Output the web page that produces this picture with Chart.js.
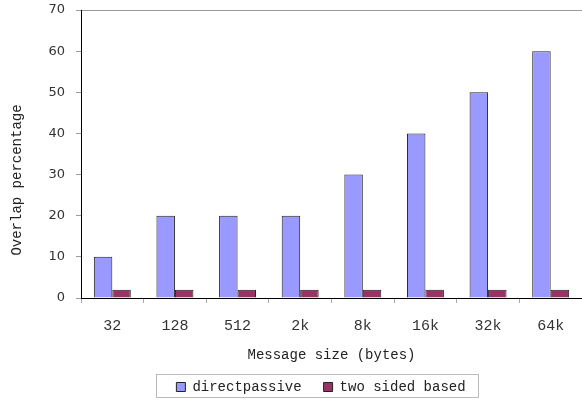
<!DOCTYPE html>
<html>
<head>
<meta charset="utf-8">
<script src="https://cdn.jsdelivr.net/npm/chart.js@4/dist/chart.umd.min.js"></script>
<style>
  html, body { margin: 0; padding: 0; background: #fff; }
  #wrap { width: 582px; height: 400px; }
</style>
</head>
<body>
<div id="wrap"><canvas id="overlapChart"></canvas></div>
<script>
// message sizes and overlap values
const sizes = ["32", "128", "512", "2k", "8k", "16k", "32k", "64k"];
const directPassive = [10, 20, 20, 20, 30, 40, 50, 60];
const twoSided = [2, 2, 2, 2, 2, 2, 2, 2];
const yTicks = [0, 10, 20, 30, 40, 50, 60, 70];

const monoFont = "'Liberation Mono', 'DejaVu Sans Mono', monospace";

// y title sits a bit below the middle of the axis in the original
const yTitlePlugin = {
  id: "yTitle",
  afterDraw(chart) {
    const ctx = chart.ctx;
    const area = chart.chartArea;
    ctx.save();
    ctx.translate(17, area.bottom - 118);
    ctx.rotate(-Math.PI / 2);
    ctx.font = "14px " + monoFont;
    ctx.fillStyle = "#222";
    ctx.textAlign = "center";
    ctx.textBaseline = "middle";
    ctx.fillText("Overlap percentage", 0, 0);
    ctx.restore();
  },
};

// legend: keep the wide gap between items but a short box,
// shift it right and draw a frame round it
const legendFramePlugin = {
  id: "legendFrame",
  afterInit(chart) {
    const legend = chart.legend;
    const fit = legend.fit.bind(legend);
    legend.fit = function () {
      fit();
      this.height = 42;
      this.bottom = this.top + 42;
    };
  },
  afterLayout(chart) {
    chart.legend.left += 30;
    chart.legend.right += 30;
  },
  afterDraw(chart) {
    const boxes = chart.legend.legendHitBoxes;
    if (!boxes || !boxes.length) return;
    const first = boxes[0];
    const last = boxes[boxes.length - 1];
    const ctx = chart.ctx;
    ctx.save();
    ctx.strokeStyle = "#bbb";
    ctx.lineWidth = 1;
    const x0 = Math.round(first.left - 20) + 0.5;
    const x1 = Math.round(last.left + last.width + 12) + 0.5;
    const y0 = Math.round(first.top - 6) + 0.5;
    const y1 = Math.round(first.top + first.height + 3) + 0.5;
    ctx.strokeRect(x0, y0, x1 - x0, y1 - y0);
    ctx.restore();
  },
};

new Chart(document.getElementById("overlapChart"), {
  type: "bar",
  data: {
    labels: sizes,
    datasets: [
      {
        label: "directpassive",
        data: directPassive,
        backgroundColor: "#9999FF",
        borderColor: "#222",
        borderWidth: 1,
      },
      {
        label: "two sided based",
        data: twoSided,
        backgroundColor: "#993366",
        borderColor: "#222",
        borderWidth: 1,
      },
    ],
  },
  options: {
    responsive: true,
    maintainAspectRatio: false,
    animation: false,
    layout: { padding: { left: 0, right: 0, top: 10, bottom: 0 } },
    datasets: {
      bar: { categoryPercentage: 0.59, barPercentage: 1 },
    },
    plugins: {
      legend: {
        position: "bottom",
        labels: {
          boxWidth: 9,
          boxHeight: 9,
          padding: 22,
          color: "#222",
          font: { family: monoFont, size: 14 },
        },
      },
      tooltip: { enabled: false },
      title: { display: false },
    },
    scales: {
      x: {
        afterFit(scale) {
          scale.height = 60;
          scale.paddingLeft = 0;
          scale.paddingRight = 0;
        },
        grid: {
          display: true,
          drawOnChartArea: false,
          offset: true,
          tickLength: 5,
          tickColor: "#aaa",
        },
        border: { color: "#000", width: 1 },
        ticks: {
          color: "#333",
          padding: 14,
          font: { family: monoFont, size: 15 },
        },
        title: {
          display: true,
          text: "Message size (bytes)",
          color: "#222",
          font: { family: monoFont, size: 14 },
          padding: { top: 0, bottom: -6 },
        },
      },
      y: {
        min: 0,
        max: 70,
        afterFit(scale) {
          scale.width = 81;
          scale.paddingTop = 0;
          scale.paddingBottom = 0;
        },
        afterBuildTicks(scale) {
          scale.ticks = yTicks.map((v) => ({ value: v }));
        },
        grid: {
          color: (c) => (c.tick && c.tick.value === 70 ? "#999" : "rgba(0,0,0,0)"),
          tickColor: "#999",
          tickLength: 5,
        },
        border: { color: "#000", width: 1 },
        ticks: {
          color: "#333",
          padding: 11,
          font: { family: "'DejaVu Sans', sans-serif", size: 13 },
        },
      },
    },
  },
  plugins: [yTitlePlugin, legendFramePlugin],
});
</script>
</body>
</html>
